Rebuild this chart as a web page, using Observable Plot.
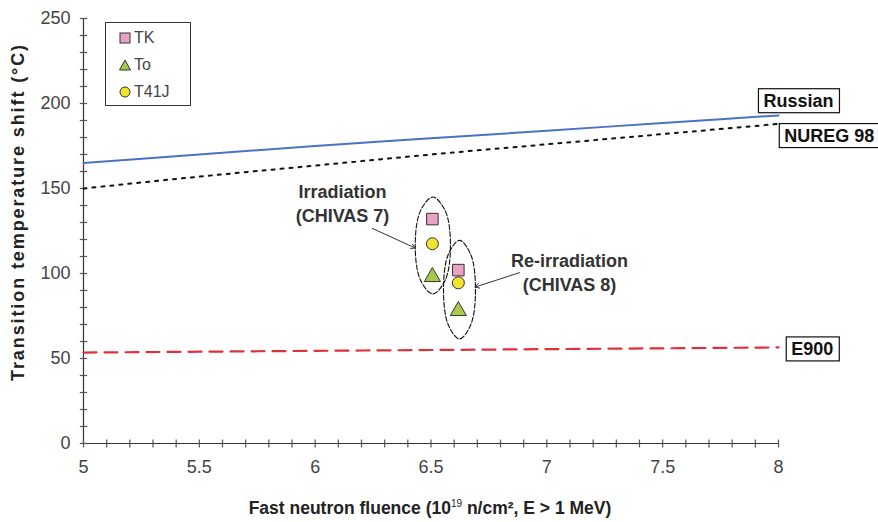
<!DOCTYPE html>
<html>
<head>
<meta charset="utf-8">
<script src="https://cdn.jsdelivr.net/npm/d3@7"></script>
<script src="https://cdn.jsdelivr.net/npm/@observablehq/plot@0.6"></script>
<style>
  body { margin: 0; background: #fff; }
  #wrap { position: relative; width: 878px; height: 522px; font-family: "Liberation Sans", Arial, sans-serif; }
  #ytitle { position: absolute; left: 18px; top: 212px; transform: translate(-50%, -50%) rotate(-90deg); white-space: nowrap; font-weight: bold; font-size: 18px; letter-spacing: 1.9px; color: #222; }
  #xtitle { position: absolute; left: 430px; top: 508px; transform: translate(-50%, -50%); white-space: nowrap; font-weight: bold; font-size: 17.5px; color: #222; }
  #xtitle sup { font-size: 10px; font-weight: normal; }
  #legend { position: absolute; left: 105px; top: 22px; width: 84px; height: 82px; border: 1px solid #333; background: #fff; font-size: 16px; color: #444; }
  #legend .row { position: absolute; left: 12px; display: flex; align-items: center; gap: 2px; }
</style>
</head>
<body>
<div id="wrap">
  <div id="chart"></div>
  <div id="ytitle">Transition temperature shift (°C)</div>
  <div id="xtitle">Fast neutron fluence (10<sup>19</sup> n/cm², E &gt; 1 MeV)</div>
  <div id="legend"></div>
</div>
<script>
// ---- data ----
const trendFluence = [5, 5.5, 6, 6.5, 7, 7.5, 8];
const russian = [165, 170, 175, 179.5, 184, 188.5, 193];
const nureg98 = [150, 157, 163.5, 170, 176, 182, 188];
const e900 = [53.5, 54, 54.5, 55, 55.5, 56, 56.5];

const series = ["TK", "To", "T41J"];
const chivas7Fluence = 6.506;
const chivas8Fluence = 6.618;
const chivas7Shift = [132, 98, 117.5];   // TK, To, T41J
const chivas8Shift = [102, 78, 94.5];

// dashed ellipse outlines (8 points each, going round)
const ellipse7X = [6.508, 6.562, 6.584, 6.562, 6.508, 6.454, 6.432, 6.454];
const ellipse7Y = [145, 136.7, 116.5, 96.3, 88, 96.3, 116.5, 136.7];
const ellipse8X = [6.623, 6.672, 6.692, 6.672, 6.623, 6.574, 6.554, 6.574];
const ellipse8Y = [119.5, 111, 90.5, 70, 61.5, 70, 90.5, 111];

// annotations
const noteText = ["Irradiation", "(CHIVAS 7)", "Re-irradiation", "(CHIVAS 8)"];
const noteX = [6.118, 6.118, 7.098, 7.098];
const noteY = [148, 133.5, 107.5, 93];
const arrowX1 = [6.247, 6.882];
const arrowY1 = [126.5, 100.5];
const arrowX2 = [6.432, 6.690];
const arrowY2 = [115, 92];

const lineLabels = ["Russian", "NUREG 98", "E900"];
const lineLabelX = [7.935, 8.025, 8.055];
const lineLabelY = [201.5, 181, 55.5];

const xMajorTicks = [5, 5.5, 6, 6.5, 7, 7.5, 8];
const yMajorTicks = [0, 50, 100, 150, 200, 250];
const xMinorTicks = d3.range(50, 81).map(d => d / 10);
const yMinorTicks = d3.range(0, 26).map(d => d * 10);

// ---- build tables ----
const trend = trendFluence.flatMap((f, i) => [
  {f, v: russian[i], s: "Russian"},
  {f, v: nureg98[i], s: "NUREG 98"},
  {f, v: e900[i], s: "E900"}
]);
const pts = series.flatMap((s, i) => [
  {f: chivas7Fluence, v: chivas7Shift[i], s},
  {f: chivas8Fluence, v: chivas8Shift[i], s}
]);
const ell = [
  ...ellipse7X.map((x, i) => ({x, y: ellipse7Y[i], g: 7})),
  ...ellipse8X.map((x, i) => ({x, y: ellipse8Y[i], g: 8}))
];
const notes = noteText.map((t, i) => ({t, x: noteX[i], y: noteY[i]}));
const arrows = arrowX1.map((x1, i) => ({x1, y1: arrowY1[i], x2: arrowX2[i], y2: arrowY2[i]}));
const labs = lineLabels.map((t, i) => ({t, x: lineLabelX[i], y: lineLabelY[i]}));

const style = {
  TK: {symbol: "square", fill: "#eaa2c4", r: 6.5},
  To: {symbol: "triangle", fill: "#a9c94d", r: 6},
  T41J: {symbol: "circle", fill: "#f3e331", r: 6}
};

const chart = Plot.plot({
  width: 878,
  height: 522,
  marginLeft: 83,
  marginRight: 100,
  marginTop: 18,
  marginBottom: 79,
  style: {fontFamily: "Liberation Sans, Arial, sans-serif", fontSize: "18px", color: "#333", background: "#fff"},
  x: {domain: [5, 8], label: null},
  y: {domain: [0, 250], label: null},
  marks: [
    Plot.axisX({ticks: xMajorTicks, tickSize: 0, tickPadding: 17, tickFormat: d => String(d), label: null, fill: "#444", fontSize: 18}),
    Plot.axisY({ticks: yMajorTicks, tickSize: 0, tickPadding: 13, label: null, fill: "#444", fontSize: 18}),
    Plot.ruleY([0], {stroke: "#333", strokeWidth: 1.2}),
    Plot.ruleX([5], {stroke: "#333", strokeWidth: 1.2}),
    // minor tick marks crossing the axis lines (about ±4 px)
    Plot.link(xMinorTicks, {x1: d => d, x2: d => d, y1: () => -2.3, y2: () => 2.3, stroke: "#555", strokeWidth: 1.2}),
    Plot.link(yMinorTicks, {x1: () => 4.984, x2: () => 5.016, y1: d => d, y2: d => d, stroke: "#555", strokeWidth: 1.2}),
    Plot.line(trend.filter(d => d.s === "Russian"), {x: "f", y: "v", stroke: "#4a70c8", strokeWidth: 2, curve: "monotone-x"}),
    Plot.line(trend.filter(d => d.s === "NUREG 98"), {x: "f", y: "v", stroke: "#111", strokeWidth: 2, strokeDasharray: "3,6", curve: "monotone-x"}),
    Plot.line(trend.filter(d => d.s === "E900"), {x: "f", y: "v", stroke: "#e0303a", strokeWidth: 2.2, strokeDasharray: "13,8", curve: "monotone-x"}),
    Plot.line(ell, {x: "x", y: "y", z: "g", curve: "catmull-rom-closed", stroke: "#111", strokeWidth: 1.1, strokeDasharray: "5,2", fill: "none"}),
    ...series.map(s => Plot.dot(pts.filter(d => d.s === s), {x: "f", y: "v", symbol: style[s].symbol, r: style[s].r, fill: style[s].fill, stroke: "#333", strokeWidth: 1})),
    Plot.arrow(arrows, {x1: "x1", y1: "y1", x2: "x2", y2: "y2", stroke: "#333", strokeWidth: 1, headLength: 7}),
    Plot.text(notes, {x: "x", y: "y", text: "t", fontWeight: "bold", fontSize: 18, fill: "#333"}),
    Plot.text(labs, {x: "x", y: "y", text: "t", textAnchor: "start", fontWeight: "bold", fontSize: 18, fill: "#111"})
  ]
});
document.getElementById("chart").appendChild(chart);

// frames around the line labels
d3.select(chart).selectAll("text").filter(function () { return lineLabels.includes(this.textContent); }).each(function () {
  const b = this.getBBox();
  const tr = this.getAttribute("transform");
  d3.select(this.parentNode).insert("rect", () => this)
    .attr("transform", tr)
    .attr("x", b.x - 5).attr("y", b.y - 2)
    .attr("width", b.width + 11).attr("height", b.height + 4)
    .attr("fill", "#fff").attr("stroke", "#111").attr("stroke-width", 1.2);
});

// legend
const lg = document.getElementById("legend");
const icons = {
  TK: '<rect x="2" y="2" width="10" height="10" fill="#eaa2c4" stroke="#333"/>',
  To: '<path d="M7 2 L12.5 12 L1.5 12 Z" fill="#a9c94d" stroke="#333"/>',
  T41J: '<circle cx="7" cy="7" r="5" fill="#f3e331" stroke="#333"/>'
};
series.forEach((s, i) => {
  const row = document.createElement("div");
  row.className = "row";
  row.style.top = (6 + i * 27) + "px";
  row.innerHTML = `<svg width="14" height="14">${icons[s]}</svg><span>${s}</span>`;
  lg.appendChild(row);
});
</script>
</body>
</html>
